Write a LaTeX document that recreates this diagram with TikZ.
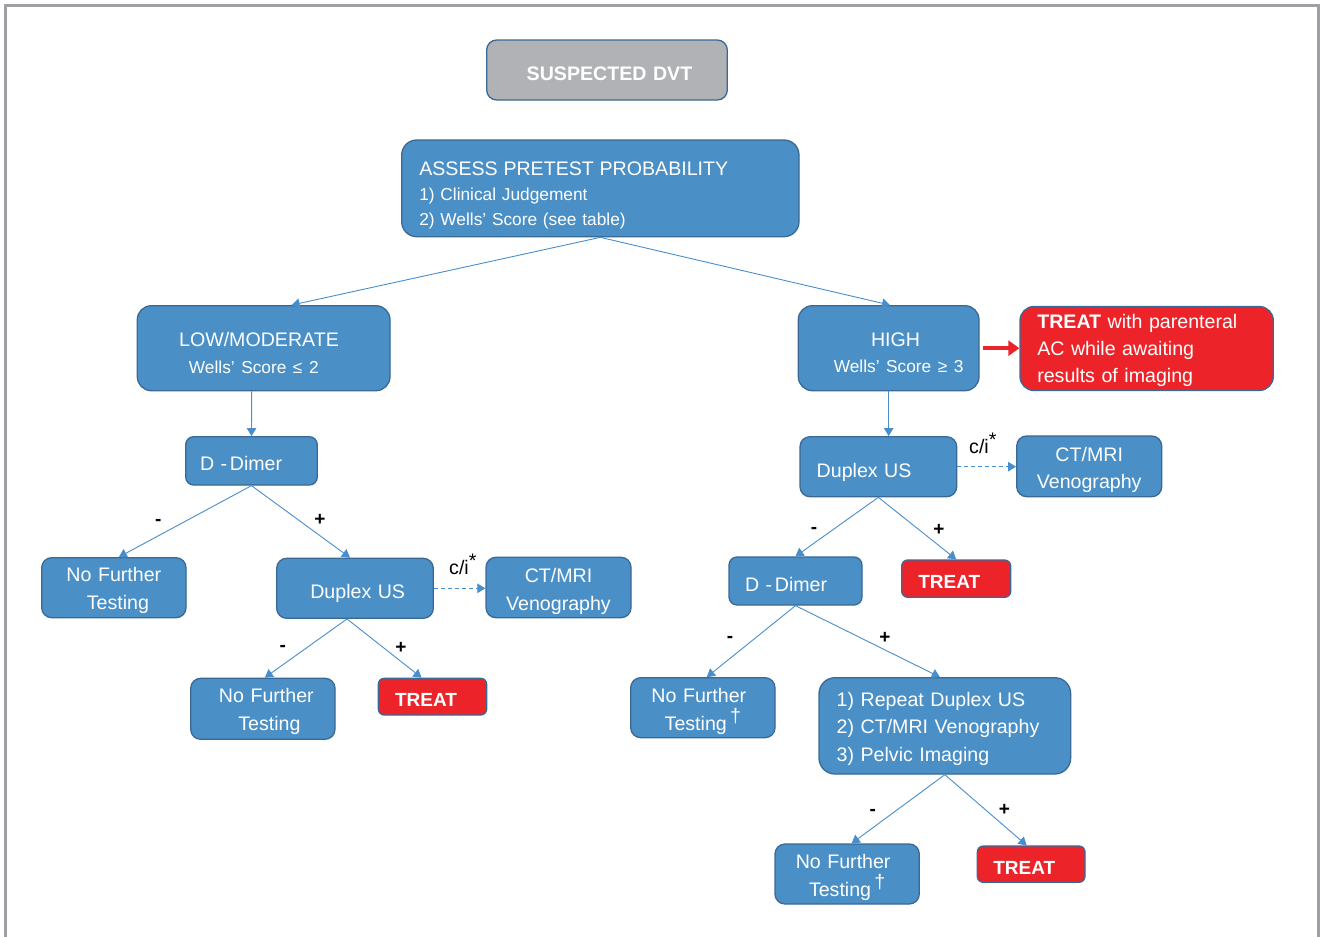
\documentclass[tikz,border=0pt]{standalone}
\usepackage{fontspec}
\setmainfont{Liberation Sans}
\usetikzlibrary{arrows.meta}

\definecolor{boxfill}{RGB}{74,143,198}
\definecolor{boxedge}{RGB}{58,105,150}
\definecolor{treatfill}{RGB}{236,36,42}
\definecolor{startfill}{RGB}{177,178,182}
\definecolor{linkblue}{RGB}{72,142,204}
\definecolor{framegray}{RGB}{160,160,164}

\newcommand{\mainsize}{\fontsize{19.6}{28}\selectfont}
\newcommand{\subsize}{\fontsize{17.3}{24.3}\selectfont}
\newcommand{\treatsize}{\fontsize{19}{27}\selectfont}
\newcommand{\dg}{\,\raisebox{8pt}{†}}
\newcommand{\ddimer}{D -\kern2.7pt Dimer}

\begin{document}
\begin{tikzpicture}[x=1pt,y=-1pt,
  box/.style={draw=boxedge, line width=1.3pt, fill=boxfill, text=white,
    inner ysep=0pt, font=\mainsize},
  treatbox/.style={box, fill=treatfill, font=\bfseries\treatsize, rounded corners=6pt},
  % place the first baseline #1 below the node centre (#2 = half text box)
  baseoff/.code 2 args={%
    \pgfmathsetlengthmacro\bxh{#2+(#1)}%
    \pgfmathsetlengthmacro\bxd{#2-(#1)}%
    \edef\bxset{\noexpand\pgfkeysalso{text height=\bxh,text depth=\bxd}}\bxset},
  link/.style={draw=linkblue, line width=0.9pt, -{Triangle[length=8pt,width=9.5pt]}},
  dlink/.style={link, dashed, dash pattern=on 4pt off 3pt},
  redarrow/.style={draw=treatfill, line width=3.6pt, -{Triangle[length=11pt,width=15pt]}},
  sign/.style={font=\bfseries\fontsize{19}{19}\selectfont, text=black, inner sep=0pt},
  cilabel/.style={font=\mainsize, text=black, inner sep=0pt, anchor=base west}
]
\useasboundingbox (0,0) rectangle (1320,937);
\fill[white] (0,0) rectangle (1320,937);

% outer frame (open at the bottom)
\draw[framegray, line width=2.7pt, line join=miter]
  (5.3,937) -- (5.3,5.3) -- (1318.7,5.3) -- (1318.7,937);

% ---------- boxes ----------
\node[box, fill=startfill, font=\bfseries\mainsize, rounded corners=10pt,
  minimum width=240.6pt, minimum height=60pt, inner xsep=0pt, text width=240.6pt,
  align=center, baseoff={10}{12}] (dvt) at (607,70) {\hspace*{5pt}SUSPECTED DVT};

\node[box, rounded corners=15pt, minimum width=397.3pt, minimum height=96.7pt,
  inner xsep=17.6pt, text width=362.1pt, align=left, font=\subsize,
  baseoff={-13.35}{30}] (assess) at (600.35,188.35)
  {{\mainsize ASSESS PRETEST PROBABILITY}\\[1.4pt]
   1) Clinical Judgement\\
   2) Wells' Score (see table)};

\node[box, rounded corners=14pt, minimum width=252.7pt, minimum height=85pt,
  inner xsep=0pt, text width=252.7pt, align=center,
  font=\fontsize{19.6}{26.6}\selectfont, baseoff={-1.5}{20}] (low) at (263.65,348.2)
  {\hspace*{-9.3pt}LOW/MODERATE\\
   \hspace*{-19.7pt}{\subsize Wells' Score ≤ 2}};

\node[box, rounded corners=14pt, minimum width=180.7pt, minimum height=85pt,
  inner xsep=0pt, text width=180.7pt, align=center,
  font=\fontsize{19.6}{25.6}\selectfont, baseoff={-1.5}{20}] (high) at (888.65,348.2)
  {\hspace*{13.7pt}HIGH\\
   \hspace*{20pt}{\subsize Wells' Score ≥ 3}};

\node[box, fill=treatfill, rounded corners=14pt, minimum width=253.3pt,
  minimum height=84pt, inner xsep=17.3pt, text width=218.7pt, align=left,
  font=\fontsize{19.6}{27.1}\selectfont, baseoff={-20.2}{25}] (treatp) at (1146.65,348.5)
  {\textbf{TREAT} with parenteral\\ AC while awaiting\\ results of imaging};

% left branch
\node[box, rounded corners=8pt, minimum width=131.6pt, minimum height=48.3pt,
  inner xsep=14.3pt, text width=103pt, align=left, baseoff={9.85}{12}]
  (ddl) at (251.5,460.85) {\ddimer};

\node[box, rounded corners=10pt, minimum width=144.3pt, minimum height=60pt,
  inner xsep=0pt, text width=144.3pt, align=center, baseoff={-6}{20}]
  (nft1) at (113.85,587.7) {No Further\\ \hspace*{8pt}Testing};

\node[box, rounded corners=10pt, minimum width=156.6pt, minimum height=60pt,
  inner xsep=0pt, text width=156.6pt, align=center, baseoff={10}{12}]
  (dup1) at (355,588.3) {\hspace*{5.4pt}Duplex US};

\node[box, rounded corners=10pt, minimum width=145pt, minimum height=60.4pt,
  inner xsep=0pt, text width=145pt, align=center, baseoff={-5.5}{20}]
  (ct1) at (558.5,587.5) {CT/MRI\\ Venography};

\node[box, rounded corners=10pt, minimum width=144.3pt, minimum height=61pt,
  inner xsep=0pt, text width=144.3pt, align=center, baseoff={-6.5}{20}]
  (nft2) at (262.85,708.8) {\hspace*{7pt}No Further\\ \hspace*{13pt}Testing};

\node[treatbox, minimum width=108.4pt, minimum height=36.7pt,
  inner xsep=16.7pt, text width=75pt, align=left, baseoff={10}{12}]
  (treat1) at (432.5,696.65) {TREAT};

% right branch
\node[box, rounded corners=10pt, minimum width=156.7pt, minimum height=60pt,
  inner xsep=16.7pt, text width=123.3pt, align=left, baseoff={10.6}{12}]
  (dupr) at (878.35,466.7) {Duplex US};

\node[box, rounded corners=10pt, minimum width=145pt, minimum height=60.7pt,
  inner xsep=0pt, text width=145pt, align=center,
  font=\fontsize{19.6}{27.3}\selectfont, baseoff={-5.35}{20}]
  (ctr) at (1089.2,466.35) {CT/MRI\\ Venography};

\node[treatbox, minimum width=109pt, minimum height=37.3pt,
  inner xsep=16.6pt, text width=75.8pt, align=left, baseoff={9.65}{12}]
  (treatr) at (956.2,578.65) {TREAT};

\node[box, rounded corners=8pt, minimum width=133pt, minimum height=48pt,
  inner xsep=16pt, text width=101pt, align=left, baseoff={10.5}{12}]
  (ddr) at (795.5,581) {\ddimer};

\node[box, rounded corners=10pt, minimum width=144.3pt, minimum height=60pt,
  inner xsep=0pt, text width=144.3pt, align=center,
  font=\fontsize{19.6}{27.7}\selectfont, baseoff={-5.4}{20}]
  (nftr) at (702.85,707.7) {\hspace*{-8pt}No Further\\ Testing\dg};

\node[box, rounded corners=16pt, minimum width=251.7pt, minimum height=96.3pt,
  inner xsep=17.7pt, text width=216.3pt, align=left,
  font=\fontsize{19.6}{27.5}\selectfont, baseoff={-19.85}{30}]
  (rep) at (944.85,725.85)
  {1) Repeat Duplex US\\ 2) CT/MRI Venography\\ 3) Pelvic Imaging};

\node[box, rounded corners=10pt, minimum width=144.3pt, minimum height=60pt,
  inner xsep=0pt, text width=144.3pt, align=center,
  font=\fontsize{19.6}{27.7}\selectfont, baseoff={-5.7}{20}]
  (nftb) at (847.15,874) {\hspace*{-8pt}No Further\\ Testing\dg};

\node[treatbox, minimum width=107.7pt, minimum height=36.3pt,
  inner xsep=16pt, text width=75.7pt, align=left, baseoff={10.15}{12}]
  (treatb) at (1031.15,864.15) {TREAT};

% ---------- connectors ----------
\draw[link] (assess.south) -- ([xshift=28pt]low.north);
\draw[link] (assess.south) -- ([xshift=1.3pt]high.north);
\draw[link] ([xshift=-12pt]low.south) -- (ddl.north);
\draw[link] (ddl.south) -- ([xshift=5pt]nft1.north);
\draw[link] (ddl.south) -- ([xshift=-5pt]dup1.north);
\draw[link] ([xshift=-8pt]dup1.south) -- ([xshift=2pt]nft2.north);
\draw[link] ([xshift=-8pt]dup1.south) -- ([xshift=-11pt]treat1.north);
\draw[dlink] (dup1.east) -- (dup1.east -| ct1.west);

\draw[redarrow, shorten <=3.5pt] (high.east) -- (high.east -| treatp.west);
\draw[link] (high.south) -- (high.south |- dupr.north);
\draw[link] (dupr.south) -- (ddr.north);
\draw[link] (dupr.south) -- (treatr.north);
\draw[dlink] (dupr.east) -- (dupr.east -| ctr.west);
\draw[link] (ddr.south) -- ([xshift=4pt]nftr.north);
\draw[link] (ddr.south) -- ([xshift=-5pt]rep.north);
\draw[link] (rep.south) -- ([xshift=4.5pt]nftb.north);
\draw[link] (rep.south) -- ([xshift=-4.5pt]treatb.north);

% ---------- branch labels ----------
\node[sign] (s1m) at (158.3,522.7) {-};
\node[sign] (s1p) at (320,520.3) {+};
\node[sign] (s2m) at (282.7,648.7) {-};
\node[sign] (s2p) at (401,647.7) {+};
\node[sign] (s3m) at (814,530.3) {-};
\node[sign] (s3p) at (939,530.3) {+};
\node[sign] (s4m) at (730,639.3) {-};
\node[sign] (s4p) at (885,637.7) {+};
\node[sign] (s5m) at (872.7,812) {-};
\node[sign] (s5p) at (1004.3,810.3) {+};

\node[cilabel] (ci1) at (449,574.3) {c/i\raisebox{7pt}{*}};
\node[cilabel] (ci2) at (969,453.3) {c/i\raisebox{7pt}{*}};
\end{tikzpicture}
\end{document}
